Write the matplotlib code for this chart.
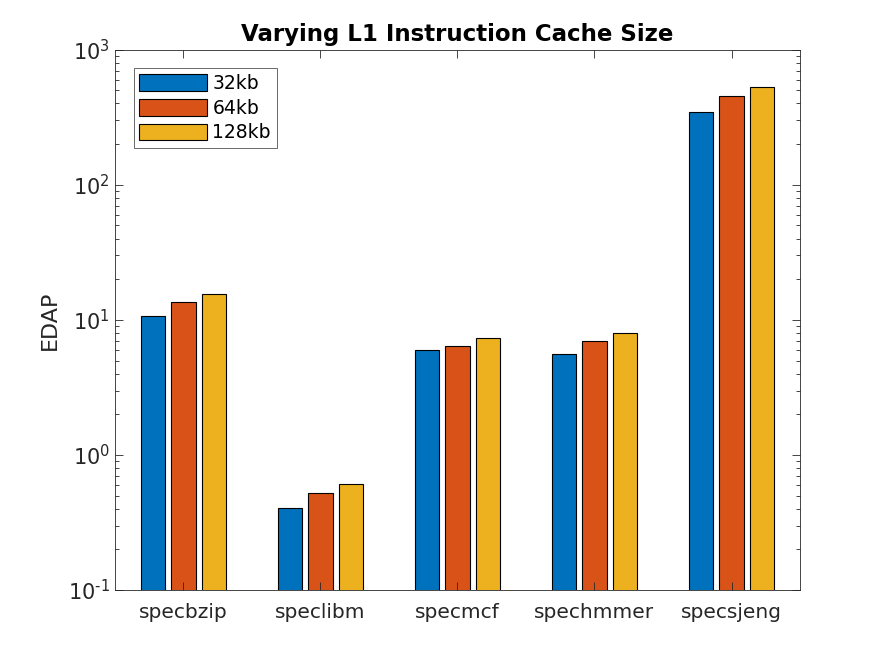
import matplotlib
matplotlib.use("Agg")
import matplotlib.pyplot as plt
import numpy as np
from matplotlib.ticker import LogLocator, NullFormatter, FuncFormatter

categories = ["specbzip", "speclibm", "specmcf", "spechmmer", "specsjeng"]
series_names = ["32kb", "64kb", "128kb"]
v32 = [10.7, 0.404, 5.98, 5.6, 348]
v64 = [13.6, 0.52, 6.41, 6.98, 457]
v128 = [15.6, 0.61, 7.35, 8.0, 533]
colors = ["#0072BD", "#D95319", "#EDB120"]

plt.rcParams['font.family'] = ['DejaVu Sans']
plt.rcParams['axes.unicode_minus'] = False
fig = plt.figure(figsize=(8.84, 6.63), dpi=100)
ax = fig.add_axes([0.13, 0.11, 0.775, 0.815])

x = np.arange(1, len(categories) + 1)
gw = 2 / 3
step = gw / 3
bw = step * 0.8
for i, (vals, name) in enumerate(zip([v32, v64, v128], series_names)):
    ax.bar(x + (i - 1) * step, vals, width=bw, color=colors[i],
           edgecolor="black", linewidth=0.8, label=name)

ax.set_yscale("log")
ax.set_ylim(0.1, 1000)
ax.set_xlim(0.5, 5.5)
ax.set_xticks(x)
ax.set_xticklabels(categories, fontsize=14.5, color="#262626")
ax.yaxis.set_major_locator(LogLocator(base=10, numticks=10))
ax.yaxis.set_minor_locator(LogLocator(base=10, subs=np.arange(2, 10), numticks=100))
ax.yaxis.set_minor_formatter(NullFormatter())


def fmt(v, pos):
    e = int(round(np.log10(v)))
    return r"$\mathregular{10^{\text{%d}}}$" % e


ax.yaxis.set_major_formatter(FuncFormatter(fmt))
ax.tick_params(axis="both", which="both", direction="in", top=True, right=True,
               colors="#262626", width=0.6)
ax.tick_params(axis="y", which="major", length=6, labelsize=15)
ax.tick_params(axis="y", which="minor", length=3)
ax.tick_params(axis="x", which="major", length=6, pad=9, labelsize=14.5)
for s in ax.spines.values():
    s.set_linewidth(0.6)
    s.set_color("#262626")

ax.set_ylabel("EDAP", fontsize=16, color="#262626", labelpad=6)
ax.set_title("Varying L1 Instruction Cache Size", fontsize=16.5, fontweight="bold", pad=6)

leg = ax.legend(loc="upper left", fontsize=13.5, frameon=True, fancybox=False,
                edgecolor="#262626", handlelength=3.6, handleheight=1.0,
                borderaxespad=1.0, labelspacing=0.3, handletextpad=0.3,
                borderpad=0.3)
leg.get_frame().set_linewidth(0.6)

fig.savefig("out.png", dpi=100)
